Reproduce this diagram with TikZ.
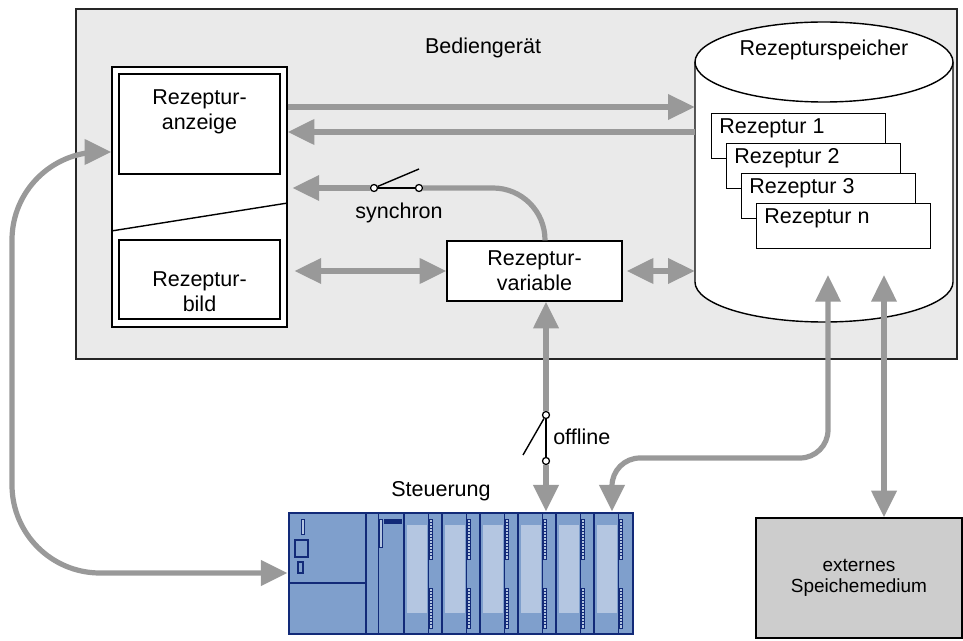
\documentclass[tikz,border=0pt]{standalone}
\usepackage{fontspec}
\setmainfont{Liberation Sans}
\usetikzlibrary{arrows.meta,calc}
\definecolor{geraet}{HTML}{EAEAEA}
\definecolor{fluss}{HTML}{999999}
\definecolor{extgrau}{HTML}{CDCDCD}
\definecolor{spsblau}{HTML}{7F9FCC}
\definecolor{spsdunkel}{HTML}{122A78}
\definecolor{spshell}{HTML}{B4C6E1}
\tikzset{
  datenfluss/.style={fluss,line width=3.7pt,>={Triangle[length=19pt,width=17.5pt]}},
  kasten/.style={draw,fill=white,line width=1pt,inner sep=0pt},
  kontakt/.style={circle,draw,fill=white,line width=0.9pt,inner sep=0pt,minimum size=5pt},
  schalter/.style={line width=1pt},
  modul/.style={spsdunkel,line width=2pt},
  led/.style={draw=spsdunkel,fill=spshell,line width=0.5pt},
}

\begin{document}
\begin{tikzpicture}[x=0.25mm,y=-0.25mm,font=\fontsize{15.3}{17.7}\selectfont]
  \useasboundingbox (0,0) rectangle (963,641);
  % Bediengeraet
  \node[draw=black!85,fill=geraet,line width=1.2pt,minimum width=220.25mm,minimum height=87.5mm] (hmi) at (516.5,184) {};
  \node (hmiT) at (483,48) {Bediengerät};
  % Rezepturanzeige / Rezepturbild
  \node[kasten,minimum width=43.75mm,minimum height=65mm] (panel) at (199.5,197) {};
  \node[kasten,minimum width=40.25mm,minimum height=25mm] (anz) at (199.5,124) {};
  \node[kasten,minimum width=40.25mm,minimum height=19.75mm] (bild) at (199.5,279.5) {};
  \draw[line width=1pt] (panel.west |- 0,231) -- (panel.east |- 0,203);
  \node[align=center] (anzT) at (199.5,112) {Rezeptur-\\anzeige};
  \node[align=center] (bildT) at (199.5,292) {Rezeptur-\\bild};
  % Rezepturvariable
  \node[kasten,align=center,minimum width=43.75mm,minimum height=15mm] (var) at (534.5,271) {Rezeptur-\\variable};
  % Rezepturspeicher (Zylinder)
  \filldraw[fill=white,line width=1pt] (695,62) -- (695,282)
    arc[start angle=180,end angle=0,x radius=129,y radius=40] -- (953,62);
  \filldraw[fill=white,line width=1pt] (824,62) ellipse[x radius=129,y radius=40];
  \node[inner sep=0pt,minimum width=64.5mm,minimum height=55mm] (sp) at (824,172) {};
  \node (spT) at (824,50) {Rezepturspeicher};
  \foreach \t [count=\n from 0] in {1,2,3,n}
  {
    \node[kasten,anchor=north west,minimum width=43.5mm,minimum height=11.25mm] (r\n) at (711+15*\n,113+30*\n) {};
    \node[anchor=west,inner sep=0pt] (rt\n) at ($(r\n.north west)+(8,15)$) {Rezeptur \t};
  }
  % externes Speichermedium
  \node[kasten,fill=extgrau,align=center,font=\fontsize{13.5}{14.5}\selectfont,
    minimum width=51.5mm,minimum height=30mm] (ext) at (859,578) {externes\\Speichemedium};
  % Steuerung
  \node[draw=spsdunkel,fill=spsblau,line width=2pt,minimum width=86mm,minimum height=30.25mm] (plc) at (461,573.5) {};
  \node (plcT) at (441,491) {Steuerung};
  \foreach \x in {366,404,...,594}
    \draw[modul] (\x,513) -- (\x,634);
  \draw[modul] (289,583) -- (366,583);
  % Stromversorgung
  \draw[led] (301,519) rectangle (304,534);
  \draw[spsdunkel,line width=0.8pt] (295,540) rectangle (308,557);
  \draw[spsdunkel,line width=0.8pt] (298,562) rectangle (303,573);
  % CPU
  \draw[spsdunkel,line width=0.6pt] (378,513) -- (378,634);
  \draw[led] (379,519) rectangle (382,547);
  \fill[spsdunkel] (384,519) rectangle (402,524);
  % Signalbaugruppen
  \foreach \x in {404,442,...,594}
  {
    \fill[spshell] (\x+3,525) rectangle (\x+23,613);
    \draw[spsdunkel,line width=0.6pt] (\x+24,513) -- (\x+24,634);
    \draw[led] (\x+25,519) rectangle (\x+28,559);
    \draw[led] (\x+25,588) rectangle (\x+28,628);
    \foreach \y in {522,525,...,556,591,594,...,625}
      \draw[spsdunkel,line width=0.3pt] (\x+25,\y) -- (\x+28,\y);
  }
  % Schalter
  \node[kontakt] (s1) at (374,188) {};
  \node[kontakt] (s2) at (419,188) {};
  \coordinate (sh) at (419,169);
  \node (syncT) at (399,213) {synchron};
  \node[kontakt] (o1) at (546,415) {};
  \node[kontakt] (o2) at (546,461) {};
  \coordinate (oh) at (523,455);
  \node[anchor=west,inner sep=0pt] (offT) at (553,437) {offline};
  % Datenfluss
  \coordinate (sp1) at (828,275);
  \coordinate (sp2) at (884,275);
  \coordinate (k1) at (612,458);
  \coordinate (k2) at (12,573);
  \draw[datenfluss,->] (panel.east |- 0,107) -- (sp.west |- 0,107);
  \draw[datenfluss,->] (sp.west |- 0,132) -- (panel.east |- 0,132);
  \draw[datenfluss,->,shorten >=1.2mm] (s1) -- (panel.east |- s1);
  \draw[datenfluss,rounded corners=13mm] (s2) -| (var.north -| 545,0);
  \draw[datenfluss,<->,shorten <=1.7mm] (panel.east |- var.west) -- (var.west);
  \draw[datenfluss,<->,shorten <=1mm] (var.east) -- (sp.west |- var.east);
  \draw[datenfluss,<-] (var.south -| o1) -- (o1);
  \draw[datenfluss,->] (o2) -- (plc.north -| o2);
  \draw[datenfluss,<->,rounded corners=7mm] (sp1) |- (k1) -- (plc.north -| k1);
  \draw[datenfluss,<->] (sp2) -- (ext.north -| sp2);
  \draw[datenfluss,<->,rounded corners=22mm] (panel.west |- 0,152) -| (k2) -- (plc.west |- k2);
  \draw[schalter] (s1) -- (s2);
  \draw[schalter] (s1) -- (sh);
  \draw[schalter] (o1) -- (o2);
  \draw[schalter] (o1) -- (oh);
\end{tikzpicture}
\end{document}
